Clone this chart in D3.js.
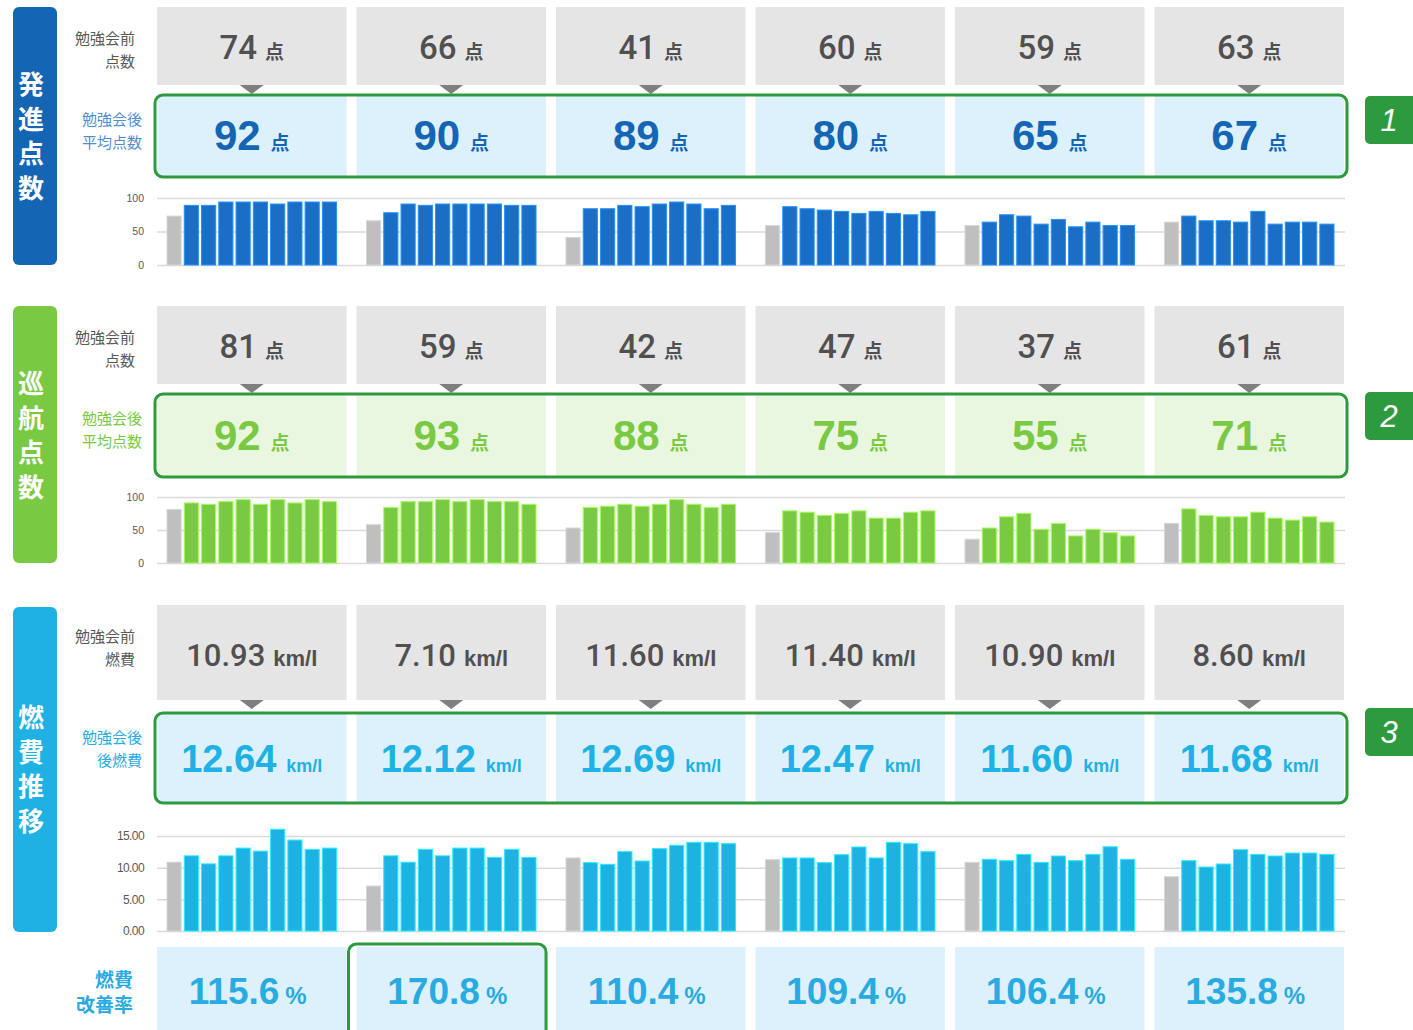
<!DOCTYPE html>
<meta charset="utf-8">
<style>
  html, body { margin: 0; background: #fff; }
  svg { display: block; }
  text { font-family: "Liberation Sans", Arial, "Noto Sans CJK JP", sans-serif; }
  .jp { font-family: "Noto Sans CJK JP", sans-serif; }
  .axis .domain { display: none; }
  .axis line { stroke: #d9d9d9; stroke-width: 1.5px; }
  .axis text { fill: #595959; font-size: 11px; }
</style>
<svg id="chart" width="1413" height="1030"></svg>
<script src="https://cdn.jsdelivr.net/npm/d3@7"></script>
<script>

  // --- data ---
  const sectionTitles = ["発進点数", "巡航点数", "燃費推移"];
  const beforeLabels = [["勉強会前", "点数"], ["勉強会前", "点数"], ["勉強会前", "燃費"]];
  const afterLabels = [["勉強会後", "平均点数"], ["勉強会後", "平均点数"], ["勉強会後", "後燃費"]];
  const units = ["点", "点", "km/l"];
  const badges = ["1", "2", "3"];

  const startBefore = ["74", "66", "41", "60", "59", "63"];
  const startAfter = ["92", "90", "89", "80", "65", "67"];
  const startBars = [
    [73, 89, 89, 94, 94, 94, 91, 94, 94, 94],
    [66, 78, 91, 89, 91, 91, 91, 91, 89, 89],
    [41, 84, 84, 89, 87, 91, 94, 91, 84, 89],
    [59, 87, 84, 82, 80, 77, 80, 77, 75, 80],
    [59, 64, 75, 73, 61, 68, 57, 64, 59, 59],
    [64, 73, 66, 66, 64, 80, 61, 64, 64, 61]
  ];
  const startTicks = [0, 50, 100];

  const cruiseBefore = ["81", "59", "42", "47", "37", "61"];
  const cruiseAfter = ["92", "93", "88", "75", "55", "71"];
  const cruiseBars = [
    [81, 91, 89, 93, 96, 89, 96, 91, 96, 93],
    [58, 84, 93, 93, 96, 93, 96, 93, 93, 89],
    [53, 84, 86, 89, 86, 89, 96, 89, 84, 89],
    [46, 79, 77, 72, 75, 79, 68, 68, 77, 79],
    [36, 53, 70, 75, 51, 60, 41, 51, 46, 41],
    [60, 82, 72, 70, 70, 77, 68, 65, 70, 62]
  ];
  const cruiseTicks = [0, 50, 100];

  const fuelBefore = ["10.93", "7.10", "11.60", "11.40", "10.90", "8.60"];
  const fuelAfter = ["12.64", "12.12", "12.69", "12.47", "11.60", "11.68"];
  const fuelBars = [
    [10.86, 11.87, 10.6, 11.87, 13.09, 12.61, 16.06, 14.36, 12.88, 13.09],
    [7.10, 11.87, 10.86, 12.88, 11.87, 13.09, 13.09, 11.6, 12.88, 11.6],
    [11.53, 10.79, 10.53, 12.53, 11.05, 13.0, 13.53, 14.0, 14.0, 13.79],
    [11.26, 11.53, 11.53, 10.79, 12.05, 13.26, 11.53, 14.0, 13.79, 12.53],
    [10.84, 11.32, 11.1, 12.1, 10.84, 11.84, 11.1, 12.1, 13.3, 11.32],
    [8.58, 11.1, 10.1, 10.58, 12.84, 12.1, 11.84, 12.31, 12.31, 12.1]
  ];
  const fuelTicks = [0, 5, 10, 15];

  const improveRate = ["115.6", "170.8", "110.4", "109.4", "106.4", "135.8"];
  const improveLabel = ["燃費", "改善率"];
  const highlightCol = 1;

  // --- layout ---
  const svg = d3.select("#chart");
  const GREEN = "#2e9a3e";

  const x = d3.scaleBand().domain(d3.range(6)).range([157, 1344]).paddingInner(0.05);
  const bw = x.bandwidth();

  const sections = [
    { title: sectionTitles[0], before: startBefore, after: startAfter, bars: startBars, ticks: startTicks,
      fmt: d3.format("d"), domain: [0, 100], side: [7, 265], gray: [7, 85], box: [95, 177], badgeY: 96,
      chart: [198, 265], titleY: 85, color: "#1565b5", bar: "#1a6ec6", labelColor: "#4f8fd0",
      cell: "#ddf1fc", beforeSize: 33, afterSize: 42, unitSize: 19, afterUnitSize: 19,
      beforeBase: 59, afterBase: 150, tickSize: 10.5 },
    { title: sectionTitles[1], before: cruiseBefore, after: cruiseAfter, bars: cruiseBars, ticks: cruiseTicks,
      fmt: d3.format("d"), domain: [0, 100], side: [306, 563], gray: [306, 384], box: [394, 477], badgeY: 392,
      chart: [497, 563], titleY: 384, color: "#7ac943", bar: "#7ac943", labelColor: "#7ac943",
      cell: "#eaf7e0", beforeSize: 33, afterSize: 42, unitSize: 19, afterUnitSize: 19,
      beforeBase: 358, afterBase: 450, tickSize: 10.5 },
    { title: sectionTitles[2], before: fuelBefore, after: fuelAfter, bars: fuelBars, ticks: fuelTicks,
      fmt: d3.format(".2f"), domain: [0, 15], side: [607, 932], gray: [605, 700], box: [713, 803], badgeY: 708,
      chart: [836, 931], titleY: 718, color: "#1fb1e3", bar: "#1eb2e2", labelColor: "#29abe2",
      cell: "#ddf1fc", beforeSize: 31, afterSize: 38, unitSize: 22, afterUnitSize: 18,
      beforeBase: 666, afterBase: 772, tickSize: 12 }
  ];

  sections.forEach(function(s, k) {
    let g = svg.append("g");

    // side title bar
    g.append("rect")
      .attr("x", 13).attr("y", s.side[0])
      .attr("width", 44).attr("height", s.side[1] - s.side[0])
      .attr("rx", 6).attr("fill", s.color);

    g.selectAll(".title-ch")
      .data(Array.from(s.title))
      .join("text")
      .attr("class", "jp")
      .attr("x", 31).attr("y", function(d, i) { return s.titleY + 9 + i * 34.5; })
      .attr("text-anchor", "middle")
      .attr("font-size", 26).attr("font-weight", 700).attr("fill", "#fff")
      .text(function(d) { return d; });

    // row labels
    g.selectAll(".blabel")
      .data(beforeLabels[k])
      .join("text")
      .attr("class", "jp")
      .attr("x", 135).attr("y", function(d, i) { return s.gray[0] + 37 + i * 23; })
      .attr("text-anchor", "end").attr("font-size", 15).attr("fill", "#595959")
      .text(function(d) { return d; });

    g.selectAll(".alabel")
      .data(afterLabels[k])
      .join("text")
      .attr("class", "jp")
      .attr("x", 142).attr("y", function(d, i) { return s.box[0] + 30 + i * 23; })
      .attr("text-anchor", "end").attr("font-size", 15).attr("fill", s.labelColor)
      .text(function(d) { return d; });

    // gray "before" boxes
    g.selectAll(".gray")
      .data(s.before)
      .join("rect")
      .attr("x", function(d, i) { return x(i); })
      .attr("y", s.gray[0])
      .attr("width", bw).attr("height", s.gray[1] - s.gray[0])
      .attr("fill", "#e5e5e5");

    g.selectAll(".tri")
      .data(s.before)
      .join("path")
      .attr("d", function(d, i) {
        let cx = x(i) + bw / 2, y0 = s.gray[1];
        return "M" + (cx - 12) + "," + y0 + "L" + (cx + 12) + "," + y0 + "L" + cx + "," + (y0 + 9) + "Z";
      })
      .attr("fill", "#7f7f7f");

    let bt = g.selectAll(".btext")
      .data(s.before)
      .join("text")
      .attr("x", function(d, i) { return x(i) + bw / 2; })
      .attr("y", s.beforeBase)
      .attr("text-anchor", "middle").attr("fill", "#505050");
    bt.append("tspan").attr("font-size", s.beforeSize)
      .style("font-family", "Roboto, 'Liberation Sans', sans-serif").attr("font-weight", 500)
      .text(function(d) { return d; });
    bt.append("tspan").attr("dx", 8).attr("font-size", s.unitSize).attr("font-weight", 700)
      .text(units[k]);

    // "after" cells
    g.selectAll(".cell")
      .data(s.after)
      .join("rect")
      .attr("x", function(d, i) { return x(i); })
      .attr("y", s.box[0] + 1)
      .attr("width", bw).attr("height", s.box[1] - s.box[0] - 2)
      .attr("fill", s.cell);

    g.append("rect")
      .attr("x", 155).attr("y", s.box[0])
      .attr("width", 1192).attr("height", s.box[1] - s.box[0])
      .attr("rx", 8).attr("fill", "none")
      .attr("stroke", GREEN).attr("stroke-width", 3);

    let at = g.selectAll(".atext")
      .data(s.after)
      .join("text")
      .attr("x", function(d, i) { return x(i) + bw / 2; })
      .attr("y", s.afterBase)
      .attr("text-anchor", "middle").attr("fill", s.color).attr("font-weight", 700);
    at.append("tspan").attr("font-size", s.afterSize).text(function(d) { return d; });
    at.append("tspan").attr("dx", 10).attr("font-size", s.afterUnitSize).text(units[k]);

    // badge
    g.append("rect")
      .attr("x", 1365).attr("y", s.badgeY)
      .attr("width", 52).attr("height", 48)
      .attr("rx", 5).attr("fill", GREEN);
    g.append("text")
      .attr("x", 1389).attr("y", s.badgeY + 35)
      .attr("text-anchor", "middle").attr("font-size", 31)
      .attr("font-style", "italic").attr("fill", "#fff")
      .text(badges[k]);

    // mini bar charts
    let y = d3.scaleLinear().domain(s.domain).range([s.chart[1], s.chart[0]]);

    g.append("g")
      .attr("class", "axis")
      .attr("transform", "translate(157,0)")
      .call(d3.axisLeft(y).tickValues(s.ticks).tickSize(-(1345 - 157)).tickPadding(13).tickFormat(s.fmt))
      .selectAll("text").style("font-size", s.tickSize + "px").attr("letter-spacing", k === 2 ? -0.6 : 0);

    s.bars.forEach(function(vals, i) {
      let xb = d3.scaleBand().domain(d3.range(vals.length))
        .range([x(i) + 10, x(i) + bw - 10]).paddingInner(0.18);
      g.append("g").selectAll("rect")
        .data(vals)
        .join("rect")
        .attr("x", function(d, j) { return xb(j); })
        .attr("y", function(d) { return y(d); })
        .attr("width", xb.bandwidth())
        .attr("height", function(d) { return y(0) - y(d); })
        .attr("fill", function(d, j) { return j === 0 ? "#bfbfbf" : s.bar; })
        .attr("stroke", function(d, j) { return j === 0 ? "#d6d6d6" : d3.color(s.bar).brighter(0.8); })
        .attr("stroke-width", 1);
    });
  });

  // improvement rate row
  let r = svg.append("g");
  r.selectAll(".ilabel")
    .data(improveLabel)
    .join("text")
    .attr("class", "jp")
    .attr("x", 133).attr("y", function(d, i) { return 987 + i * 25; })
    .attr("text-anchor", "end").attr("font-size", 19).attr("font-weight", 700)
    .attr("fill", "#29abe2")
    .text(function(d) { return d; });

  r.selectAll(".icell")
    .data(improveRate)
    .join("rect")
    .attr("x", function(d, i) { return x(i); })
    .attr("y", 947)
    .attr("width", bw).attr("height", 100)
    .attr("fill", "#ddf1fc");

  r.append("rect")
    .attr("x", x(highlightCol) - 8).attr("y", 944)
    .attr("width", bw + 8).attr("height", 110)
    .attr("rx", 8).attr("fill", "none")
    .attr("stroke", GREEN).attr("stroke-width", 3);

  let it = r.selectAll(".itext")
    .data(improveRate)
    .join("text")
    .attr("x", function(d, i) { return x(i) + bw / 2 - 4; })
    .attr("y", 1004)
    .attr("text-anchor", "middle").attr("fill", "#29abe2").attr("font-weight", 700);
  it.append("tspan").attr("font-size", 37).text(function(d) { return d; });
  it.append("tspan").attr("dx", 6).attr("font-size", 24).text("%");

</script>
